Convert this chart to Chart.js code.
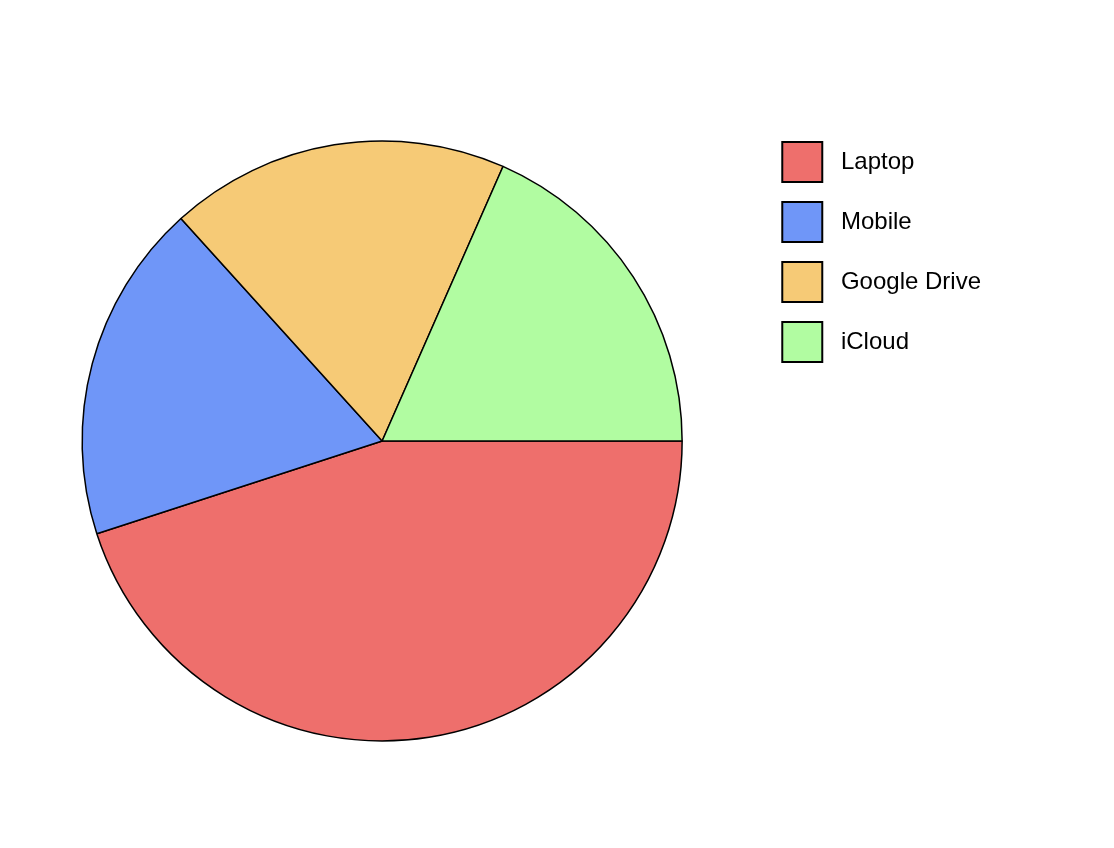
<!DOCTYPE html>
<html>
<head>
<meta charset="utf-8">
<script src="https://cdn.jsdelivr.net/npm/chart.js@4/dist/chart.umd.min.js"></script>
<style>
  html, body { margin: 0; padding: 0; background: #fff; }
  #wrap { width: 1114px; height: 848px; }
</style>
</head>
<body>
<div id="wrap"><canvas id="pie"></canvas></div>
<script>
// ── Data ─────────────────────────────────────────────
const LABELS = ['Laptop', 'Mobile', 'Google Drive', 'iCloud'];
const VALUES = [45, 18.3, 18.3, 18.4];
const COLORS = ['#EE6F6C', '#6F96F8', '#F6CA76', '#B1FCA1'];

Chart.defaults.font.family = '"Liberation Sans", Arial, Helvetica, sans-serif';
Chart.defaults.color = '#000';

new Chart(document.getElementById('pie').getContext('2d'), {
  type: 'pie',
  data: {
    labels: LABELS,
    datasets: [{
      data: VALUES,
      backgroundColor: COLORS,
      borderColor: '#000',
      borderWidth: 1.5,
      radius: 300,
      rotation: 90,
    }],
  },
  options: {
    responsive: true,
    maintainAspectRatio: false,
    animation: false,
    layout: { padding: { left: 2, top: 122, right: 123, bottom: 88 } },
    plugins: {
      tooltip: { enabled: false },
      legend: {
        position: 'right',
        align: 'start',
        labels: {
          boxWidth: 40,
          boxHeight: 40,
          padding: 20,
          color: '#000',
          font: { size: 24 },
          // leading space widens the gap between box and text
          generateLabels: chart => LABELS.map((l, i) => ({
            text: ' ' + l,
            fillStyle: COLORS[i],
            strokeStyle: '#000',
            lineWidth: 2,
            index: i,
            hidden: false,
          })),
        },
      },
    },
  },
});
</script>
</body>
</html>
